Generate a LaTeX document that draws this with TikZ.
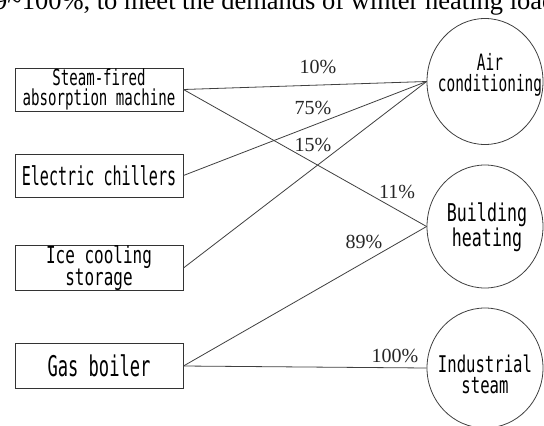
\documentclass[tikz,border=0pt]{standalone}
\usepackage{fontspec}
\usetikzlibrary{shapes.geometric}
\newfontfamily\gothA[FakeStretch=0.58]{DejaVu Sans Mono}
\newfontfamily\gothB[FakeStretch=0.60]{DejaVu Sans Mono}
\newfontfamily\gothC[FakeStretch=0.64]{DejaVu Sans Mono}
\newfontfamily\gothD[FakeStretch=0.68]{DejaVu Sans Mono}
\newfontfamily\timesf{Liberation Serif}
\begin{document}
\begin{tikzpicture}[x=1pt,y=-1pt,
  box/.style={draw=black!80,line width=0.9pt,rectangle,minimum width=168pt,minimum height=43pt,inner sep=0pt,align=center},
  oval/.style={draw=black!75,line width=0.8pt,ellipse,minimum width=116pt,inner sep=0pt},
  ctext/.style={align=center,inner sep=0pt},
  pct/.style={font=\timesf\fontsize{20}{22}\selectfont,inner sep=0pt,text=black!85},
  link/.style={draw=black!75,line width=0.8pt}]
\useasboundingbox (0,0) rectangle (544,426);
\clip (0,0) rectangle (544,426);
\fill[white] (0,0) rectangle (544,426);
% cropped caption text at top
\node[anchor=base west,inner sep=0pt,font=\timesf\fontsize{26.5}{28}\selectfont] (cap) at (-6,9.5) {9\textasciitilde100\%, to meet the demands of winter heating load};
% boxes
\node[box,font=\gothC\fontsize{22}{20}\selectfont] (steam) at (99,89.5) {Steam-fired\\absorption machine};
\node[box,font=\gothA\fontsize{26}{20}\selectfont] (elec) at (99,175.5) {Electric chillers};
\node[box,font=\gothD\fontsize{23.5}{19}\selectfont] (ice) at (99,268) {Ice cooling\\storage};
\node[box,minimum height=45pt,font=\gothB\fontsize{28.5}{20}\selectfont] (gas) at (99,366) {Gas boiler};
% ovals
\node[oval,minimum height=126pt] (air) at (485,81.5) {};
\node[oval,minimum height=123pt] (heat) at (485,226.5) {};
\node[oval,minimum height=120pt] (ind) at (485,368) {};
\node[ctext,font=\gothC\fontsize{22.5}{21}\selectfont] (airt) at (490,75) {Air\\conditioning};
\node[ctext,font=\gothD\fontsize{24.5}{20}\selectfont] (heatt) at (487,227) {Building\\heating};
\node[ctext,font=\gothD\fontsize{23}{21}\selectfont] (indt) at (485,374) {Industrial\\steam};
% links
\draw[link] (steam.east) -- (air.west);
\draw[link] (steam.east) -- (heat.west);
\draw[link] (elec.east) -- (air.west);
\draw[link] (ice.east) -- (air.west);
\draw[link] (gas.east) -- (heat.west);
\draw[link] (gas.east) -- (ind.west);
% labels
\node[pct] (p10) at (318,67) {10\%};
\node[pct] (p75) at (313,108) {75\%};
\node[pct] (p15) at (313,145) {15\%};
\node[pct] (p11) at (397,192) {11\%};
\node[pct] (p89) at (364,242) {89\%};
\node[pct] (p100) at (395,356) {100\%};
\end{tikzpicture}
\end{document}
